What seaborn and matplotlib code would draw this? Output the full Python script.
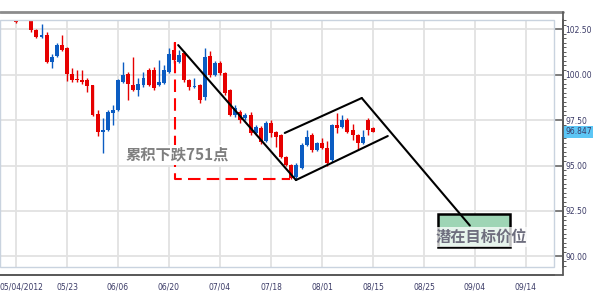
import numpy as np
import pandas as pd
import matplotlib
matplotlib.use("Agg")
import matplotlib.pyplot as plt
import matplotlib.transforms as mtransforms
from matplotlib.patches import Rectangle
from matplotlib.lines import Line2D
from matplotlib.ticker import MultipleLocator, FixedLocator
import seaborn as sns

# ---------------- data (trading-day index, 05/04/2012 = 0) ----------------
day_idx = [0, 3, 4, 5, 6, 7, 8, 9, 10, 11, 12, 13, 14, 15, 16, 17, 18, 19, 20,
           21, 22, 23, 24, 25, 26, 27, 28, 29, 30, 31, 32, 33, 34, 35, 36, 37,
           38, 39, 40, 41, 42, 43, 44, 45, 46, 47, 48, 49, 50, 51, 52, 53, 54,
           55, 56, 57, 58, 59, 60, 61, 62, 63, 64, 65, 66, 67, 68, 69, 70]
opens = [103.10, 103.10, 102.45, 102.06, 102.17, 100.69, 101.02, 101.62, 101.46,
         100.03, 99.75, 99.72, 99.70, 99.42, 97.83, 96.84, 96.95, 97.88, 98.05,
         99.59, 100.03, 99.42, 99.15, 99.42, 100.25, 100.25, 99.42, 99.53, 100.14,
         101.35, 100.69, 101.18, 99.70, 99.31, 99.42, 98.76, 101.02, 99.97, 100.63,
         100.08, 99.15, 97.77, 97.94, 97.61, 97.77, 96.79, 97.06, 96.35, 97.34,
         96.84, 96.68, 95.47, 95.03, 94.36, 94.86, 96.13, 96.68, 95.85, 96.24,
         95.96, 95.30, 97.23, 97.12, 97.50, 96.95, 96.68, 96.24, 97.50, 97.06]
highs = [103.20, 103.20, 102.50, 102.77, 102.34, 101.13, 101.73, 102.17, 101.50,
         100.36, 100.25, 100.25, 99.81, 99.45, 98.05, 97.61, 98.05, 98.32, 99.75,
         100.69, 100.14, 100.96, 99.81, 100.14, 100.36, 100.41, 100.80, 100.52, 101.46,
         101.78, 101.35, 101.30, 99.75, 99.81, 99.50, 101.46, 101.30, 100.75, 100.75,
         100.14, 99.20, 98.30, 98.05, 97.90, 97.94, 97.20, 97.15, 97.45, 97.50,
         96.90, 96.75, 95.50, 95.10, 95.14, 96.24, 96.95, 96.80, 96.30, 96.51,
         96.35, 97.30, 97.88, 97.77, 97.60, 97.30, 96.75, 96.95, 97.60, 97.10]
lows = [102.85, 102.34, 102.00, 102.00, 100.63, 100.36, 100.96, 101.30, 99.64,
        99.59, 99.59, 99.48, 99.04, 97.72, 96.62, 95.69, 96.90, 97.23, 98.00,
        99.53, 98.60, 99.10, 98.82, 99.31, 99.37, 99.15, 99.37, 99.48, 100.08,
        100.63, 100.63, 99.59, 99.15, 99.26, 98.43, 98.60, 99.86, 99.90, 100.00,
        98.90, 97.70, 97.66, 97.34, 97.50, 96.70, 96.70, 96.20, 96.30, 96.57,
        96.02, 95.40, 94.95, 94.27, 94.27, 94.80, 96.05, 95.75, 95.80, 95.90,
        95.00, 95.20, 96.79, 97.06, 96.79, 96.40, 95.85, 96.20, 96.68, 96.85]
closes = [102.88, 102.45, 102.06, 102.17, 100.69, 100.96, 101.62, 101.35, 100.03,
          99.70, 99.70, 99.59, 99.37, 97.77, 96.84, 96.95, 97.94, 98.05, 99.70,
          99.97, 99.48, 99.15, 99.48, 99.81, 99.42, 99.26, 99.59, 100.25, 101.13,
          100.80, 101.07, 99.70, 99.31, 99.37, 98.60, 100.96, 99.97, 100.63, 100.08,
          98.98, 97.77, 98.16, 97.50, 97.77, 96.79, 97.12, 96.29, 97.34, 96.79,
          96.57, 95.47, 95.03, 94.31, 95.03, 96.13, 96.57, 95.85, 96.24, 95.96,
          95.14, 97.23, 97.06, 97.50, 96.84, 96.68, 96.24, 96.57, 96.95, 96.847]

tick_days = [0, 10, 20, 30, 40, 50, 60, 70, 80, 90, 100]
tick_labels = ["05/04/2012", "05/23", "06/06", "06/20", "07/04", "07/18",
               "08/01", "08/15", "08/25", "09/04", "09/14"]
last_price = 96.847

# annotation geometry (in data units)
drop_x = [31.2, 31.2, 53.7]
drop_y = [101.78, 94.27, 94.27]
trend_x = [31.8, 54.9]
trend_y = [101.62, 94.20]
chan_up_x = [52.7, 67.8]
chan_up_y = [96.79, 98.71]
chan_lo_x = [54.9, 72.9]
chan_lo_y = [94.20, 96.62]
proj_x = [67.8, 89.0]
proj_y = [98.71, 91.70]
target_box = (82.7, 90.52, 14.2, 1.82)  # x, y, width, height
drop_text = (31.7, 95.58, "累积下跌751点")
target_text = (91.2, 91.07, "潜在目标价位")

df = pd.DataFrame({"day": day_idx, "open": opens, "high": highs,
                   "low": lows, "close": closes})
df["up"] = df["close"] >= df["open"]

# ---------------- style ----------------
sns.set_theme(style="white")
plt.rcParams["font.family"] = ["DejaVu Sans"]
cjk = ["Noto Sans CJK SC", "DejaVu Sans"]

RED = "#e60000"
BLUE = "#0b5cc2"
AXIS = "#5a5a5a"
LABEL = "#3a3a66"

fig = plt.figure(figsize=(6, 2.92), dpi=100)
ax = fig.add_axes([0, 25 / 292, 554 / 600, 247 / 292])

# candles
colors = np.where(df["up"], BLUE, RED)
ax.vlines(df["day"], df["low"], df["high"], colors=colors, lw=1, zorder=3)
body_lo = df[["open", "close"]].min(axis=1)
body_h = (df["close"] - df["open"]).abs().clip(lower=0.04)
ax.bar(df["day"], body_h, bottom=body_lo, width=0.78, color=colors,
       linewidth=0, zorder=4)

# red dashed drop measurement
ax.plot(drop_x, drop_y, color="#ff0000", lw=1.5, dashes=(6, 3), zorder=5)

# black trend / channel lines
for xs, ys in [(trend_x, trend_y), (chan_up_x, chan_up_y),
               (chan_lo_x, chan_lo_y)]:
    ax.plot(xs, ys, color="black", lw=1.5, zorder=6, solid_capstyle="round")

# target box + projection
ax.add_patch(Rectangle(target_box[:2], target_box[2], target_box[3],
                       facecolor="#9ed5b5", edgecolor="black", lw=1.8, zorder=6))
ax.plot(proj_x, proj_y, color="black", lw=1.5, zorder=7)

ax.text(drop_text[0], drop_text[1], drop_text[2], family=cjk, fontsize=11,
        fontweight="bold", color="#7f7f7f", ha="center", va="center", zorder=8,
        bbox=dict(facecolor="white", edgecolor="none", pad=1.5))
ax.text(target_text[0], target_text[1], target_text[2], family=cjk, fontsize=11,
        fontweight="bold", color="#6e6e7e", ha="center", va="center", zorder=8,
        bbox=dict(facecolor="white", edgecolor="none", alpha=0.75, pad=1.5))

# ---------------- axes ----------------
ax.set_xlim(-3.14, 105.5)
ax.set_ylim(89.42, 103.0)

ax.xaxis.set_major_locator(FixedLocator(tick_days))
ax.set_xticklabels(tick_labels)
ax.xaxis.set_minor_locator(MultipleLocator(1))
ax.yaxis.set_major_locator(MultipleLocator(2.5))
ax.yaxis.set_minor_locator(MultipleLocator(0.25))
ax.yaxis.set_major_formatter(matplotlib.ticker.FormatStrFormatter("%.2f"))
ax.yaxis.tick_right()

ax.grid(True, which="major", color="#e2e2e2", lw=1.3, zorder=0)
ax.set_axisbelow(True)

ax.spines["left"].set_visible(False)
ax.spines["top"].set_visible(False)
ax.spines["right"].set_position(("outward", 6.5))
ax.spines["bottom"].set_position(("outward", 5.8))
for side in ["right", "bottom"]:
    ax.spines[side].set_color(AXIS)
    ax.spines[side].set_linewidth(1.3)

ax.tick_params(axis="y", which="major", direction="in", length=6.5, width=1.1,
               color=AXIS, labelsize=5.5, labelcolor=LABEL, pad=1.5,
               right=True, left=False)
ax.tick_params(axis="y", which="minor", direction="out", length=2, width=0.7,
               color=AXIS, right=True, left=False)
ax.tick_params(axis="x", which="major", direction="in", length=5.8, width=1.1,
               color=AXIS, labelsize=5.5, labelcolor=LABEL, pad=5)
ax.tick_params(axis="x", which="minor", direction="in", length=2, width=0.7,
               color=AXIS)

# nudge the long first date label right
first = ax.get_xticklabels()[0]
first.set_transform(first.get_transform() +
                    mtransforms.ScaledTranslation(5 / 100, 0, fig.dpi_scale_trans))

# inner light frame of the plot area
ax.add_patch(Rectangle((0, 0), 1, 1, transform=ax.transAxes, fill=False,
                       edgecolor="#c9d3df", lw=1, zorder=9, clip_on=False))

# outer dark frame (top line and right/bottom axis lines joined)
W, H = 600, 292
fig.add_artist(Line2D([0, 563 / W], [1 - 12 / H, 1 - 12 / H],
                      color="#8c8c8c", lw=2, transform=fig.transFigure))
fig.add_artist(Line2D([563 / W, 563 / W], [1 - 12 / H, 1 - 275 / H],
                      color=AXIS, lw=1.3, transform=fig.transFigure))
fig.add_artist(Line2D([0, 563 / W], [1 - 275 / H, 1 - 275 / H],
                      color=AXIS, lw=1.3, transform=fig.transFigure))

# last price tag
tag_tr = mtransforms.blended_transform_factory(ax.transAxes, ax.transData)
ax.text(1.02, last_price, f"{last_price:.3f}", transform=tag_tr, fontsize=5.5,
        color=LABEL, ha="left", va="center", zorder=10, clip_on=False,
        bbox=dict(facecolor="#5cc6f5", edgecolor="none", pad=1.2))

fig.savefig("out.png", dpi=100)
plt.close(fig)
